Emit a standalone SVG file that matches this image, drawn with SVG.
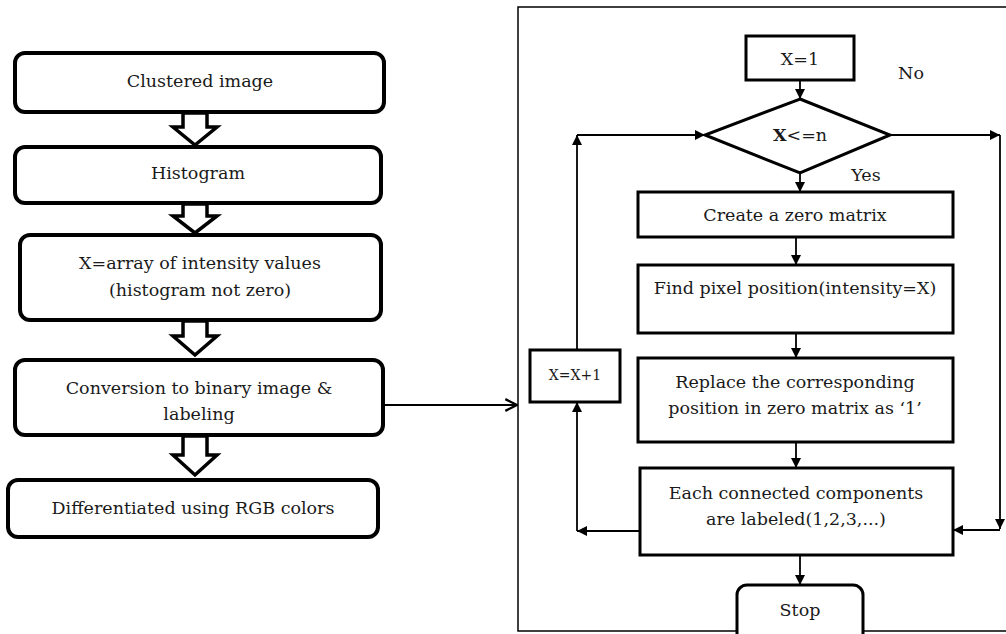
<svg xmlns="http://www.w3.org/2000/svg" width="1006" height="634" viewBox="0 0 1006 634">
<defs>
<marker id="tri" viewBox="0 0 10 10" refX="10" refY="5" markerWidth="10" markerHeight="10" markerUnits="userSpaceOnUse" orient="auto">
<path d="M0,0 L10,5 L0,10 Z" fill="#000"/>
</marker>
<marker id="chev" viewBox="0 0 12 12" refX="11" refY="6" markerWidth="14" markerHeight="14" markerUnits="userSpaceOnUse" orient="auto">
<path d="M1,1 L11,6 L1,11" fill="none" stroke="#000" stroke-width="2"/>
</marker>
<style>
.lb{fill:#fff;stroke:#000;stroke-width:4}
.rb{fill:#fff;stroke:#000;stroke-width:3}
.blk{fill:#fff;stroke:#000;stroke-width:3.5;stroke-linejoin:miter}
.t{font-family:"DejaVu Serif","Liberation Serif",serif;font-size:17.5px;fill:#1a1a1a;text-anchor:middle}
.s{font-size:14px}
.ln{fill:none;stroke:#000;stroke-width:1.8}
.ar{fill:none;stroke:#000;stroke-width:1.8;marker-end:url(#tri)}
</style>
</defs>
<rect width="1006" height="634" fill="#fff"/>
<rect id="frame" x="518" y="7" width="500" height="624" fill="none" stroke="#000" stroke-width="1.5"/>

<g id="clustered"><rect class="lb" x="15" y="53" width="369" height="59" rx="10"/><text class="t" x="200" y="87">Clustered image</text></g>
<g id="histogram"><rect class="lb" x="15" y="147" width="366" height="56" rx="10"/><text class="t" x="198" y="179">Histogram</text></g>
<g id="xarray"><rect class="lb" x="20" y="235" width="361" height="85" rx="10"/><text class="t" x="200" y="269">X=array of intensity values</text><text class="t" x="200" y="296">(histogram not zero)</text></g>
<g id="conversion"><rect class="lb" x="15" y="360" width="368" height="75" rx="10"/><text class="t" x="199" y="394">Conversion to binary image &amp;</text><text class="t" x="199" y="420">labeling</text></g>
<g id="differentiated"><rect class="lb" x="8" y="480" width="370" height="57" rx="10"/><text class="t" x="193" y="514">Differentiated using RGB colors</text></g>

<g id="blockarrows">
<path class="blk" d="M183,113 L207,113 L207,127 L217,127 L195,145 L173,127 L183,127 Z"/>
<path class="blk" d="M183,204 L207,204 L207,216 L217,216 L195,233 L173,216 L183,216 Z"/>
<path class="blk" d="M183,321 L207,321 L207,336 L217,336 L195,355 L173,336 L183,336 Z"/>
<path class="blk" d="M183,436 L207,436 L207,455 L217,455 L195,475 L173,455 L183,455 Z"/>
</g>

<g id="x1"><rect class="rb" x="746" y="36" width="108" height="44"/><text class="t" x="800" y="65">X=1</text></g>
<g id="decision"><path class="rb" d="M800,99 L890,135 L800,173 L705,135 Z"/><text class="t" x="800" y="141"><tspan font-weight="bold">X</tspan>&lt;=n</text></g>
<g id="zero"><rect class="rb" x="638" y="192" width="315" height="45"/><text class="t" x="795" y="221">Create a zero matrix</text></g>
<g id="find"><rect class="rb" x="638" y="265" width="315" height="68"/><text class="t" x="795" y="294">Find pixel position(intensity=X)</text></g>
<g id="replace"><rect class="rb" x="638" y="358" width="315" height="84"/><text class="t" x="795" y="388">Replace the corresponding</text><text class="t" x="795" y="414">position in zero matrix as ‘1’</text></g>
<g id="each"><rect class="rb" x="640" y="468" width="313" height="87"/><text class="t" x="796" y="499">Each connected components</text><text class="t" x="796" y="525">are labeled(1,2,3,...)</text></g>
<g id="stop"><rect class="rb" x="737" y="585" width="126" height="70" rx="10"/><text class="t" x="800" y="616">Stop</text></g>
<g id="increment"><rect class="rb" x="530" y="350" width="90" height="52"/><text class="t s" x="575" y="380">X=X+1</text></g>

<g id="labels"><text class="t" x="911" y="79">No</text><text class="t" x="866" y="181">Yes</text></g>

<g id="connectors">
<path class="ar" d="M800,80 L800,99"/>
<path class="ar" d="M800,173 L800,192"/>
<path class="ar" d="M796,237 L796,265"/>
<path class="ar" d="M796,333 L796,358"/>
<path class="ar" d="M796,442 L796,468"/>
<path class="ar" d="M800,555 L800,585"/>
<path class="ar" d="M890,135 L1000,135"/>
<path class="ar" d="M1000,135 L1000,529"/>
<path class="ar" d="M1000,530 L953,530"/>
<path class="ar" d="M640,531 L577,531"/>
<path class="ar" d="M577,531 L577,402"/>
<path class="ar" d="M577,350 L577,135"/>
<path class="ar" d="M577,135 L705,135"/>
<path class="ln" d="M383,405 L517,405" style="marker-end:url(#chev)"/>
</g>
</svg>
